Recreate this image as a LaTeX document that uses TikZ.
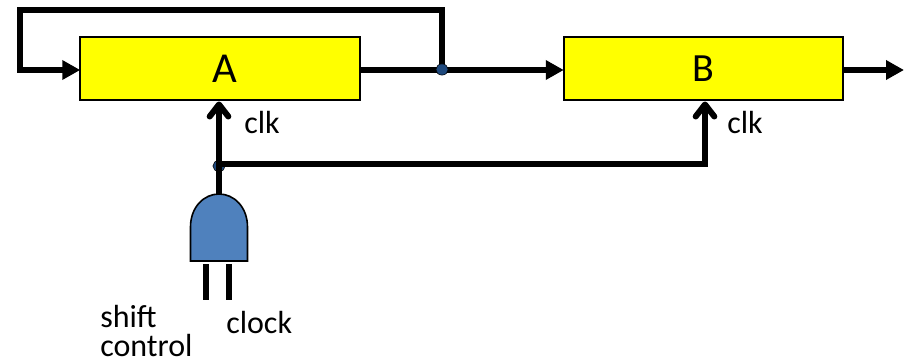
\documentclass[tikz,border=0pt]{standalone}
\usepackage{fontspec}
\setmainfont{Carlito}
\usetikzlibrary{arrows.meta,shapes.geometric}
\definecolor{regyellow}{RGB}{255,255,0}
\definecolor{gateblue}{RGB}{79,129,189}
\definecolor{dotblue}{RGB}{31,73,125}
\tikzset{
  x=0.75pt,y=-0.75pt,
  reg/.style={draw=black,line width=1.2pt,fill=regyellow,minimum width=209.6pt,minimum height=47.6pt,inner sep=0pt,outer sep=0pt},
  wire/.style={line width=4.5pt,draw=black,line join=miter},
  solidarrow/.style={wire,-{Triangle[length=13.5pt,width=14pt]}},
  barbarrow/.style={wire,-{Straight Barb[length=9pt,width=14pt,round]}},
  junction/.style={ellipse,draw=black,line width=.4pt,fill=dotblue,minimum width=9.2pt,minimum height=8.4pt,inner sep=0pt},
  lab/.style={font=\fontsize{24}{26}\selectfont,inner sep=0pt,anchor=base west},
  gatefill/.style={draw=black,line width=1.2pt,fill=gateblue}
}
\begin{document}
\begin{tikzpicture}
\useasboundingbox (0,0) rectangle (904,361);
\node[reg,font=\fontsize{32}{34}\selectfont] (A) at (220,68.5) {\hspace*{7.5pt}\raisebox{-4pt}{A}};
\node[reg,font=\fontsize{30}{32}\selectfont] (B) at (703.5,68.5) {B};
\coordinate (gO) at (219,194);
\coordinate (gI1) at (206,264);
\coordinate (gI2) at (229,264);
\coordinate (in1) at (206,300);
\coordinate (in2) at (229,300);
\coordinate (dotA) at (442,69.5);
\coordinate (dotC) at (219,166);
\coordinate (teeC) at (219,164);
\coordinate (cornerC) at (705,164);
\coordinate (tipAclk) at (219,101.5);
\coordinate (tipBclk) at (705,101.5);
\coordinate (fbTR) at (442,10);
\coordinate (fbTL) at (20,10);
\coordinate (fbBL) at (20,70);
\coordinate (out) at (904,70);
\draw[solidarrow] (dotA) -- (fbTR) -- (fbTL) -- (fbBL) -- (A.west |- fbBL);
\draw[solidarrow] (A.east |- fbBL) -- (B.west |- fbBL);
\draw[solidarrow] (B.east |- fbBL) -- (out);
\node[junction] (jA) at (dotA) {};
\node[junction] (jC) at (dotC) {};
\draw[barbarrow] (gO) -- (tipAclk);
\draw[barbarrow] (teeC) -- (cornerC) -- (tipBclk);
\draw[gatefill] (190.5,261) -- (190.5,227) .. controls (190.5,207) and (204,194) .. (219,194) .. controls (234,194) and (247.5,207) .. (247.5,227) -- (247.5,261) -- cycle;
\draw[line width=4.5pt] (gI1) -- (in1);
\draw[line width=4.5pt] (gI2) -- (in2);
\node[lab] (l1) at (244,133) {clk};
\node[lab] (l2) at (727,133) {clk};
\node[lab] (l3) at (100,327) {shift};
\node[lab] (l4) at (100,356) {control};
\node[lab] (l5) at (226,333) {clock};
\end{tikzpicture}
\end{document}
